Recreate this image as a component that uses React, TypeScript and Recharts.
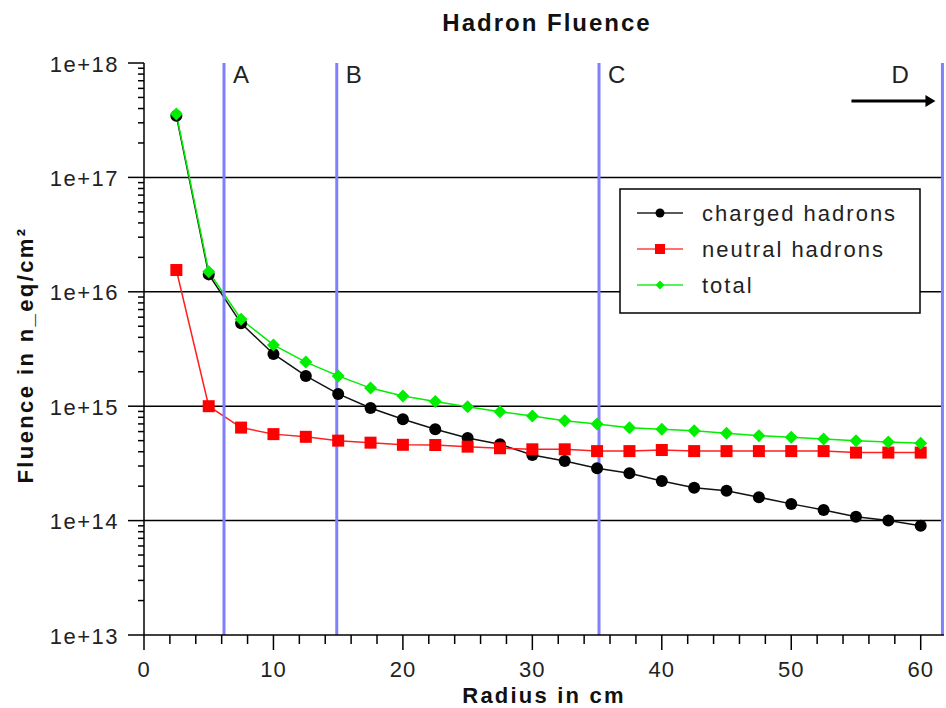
import React from "react";
import { Line, LineChart, ReferenceLine, XAxis, YAxis } from "recharts";

const radius = [2.5, 5, 7.5, 10, 12.5, 15, 17.5, 20, 22.5, 25, 27.5, 30, 32.5, 35, 37.5, 40, 42.5, 45, 47.5, 50, 52.5, 55, 57.5, 60];
const charged = [3.45e17, 1.42e16, 5.3e15, 2.86e15, 1.84e15, 1.28e15, 9.65e14, 7.7e14, 6.3e14, 5.27e14, 4.65e14, 3.74e14, 3.32e14, 2.87e14, 2.59e14, 2.22e14, 1.94e14, 1.82e14, 1.6e14, 1.4e14, 1.24e14, 1.08e14, 1.0e14, 9.0e13];
const neutral = [1.55e16, 1.0e15, 6.5e14, 5.7e14, 5.4e14, 5.0e14, 4.8e14, 4.6e14, 4.58e14, 4.43e14, 4.29e14, 4.2e14, 4.2e14, 4.05e14, 4.05e14, 4.14e14, 4.05e14, 4.05e14, 4.05e14, 4.05e14, 4.05e14, 3.93e14, 3.93e14, 3.93e14];
const total = [3.58e17, 1.5e16, 5.75e15, 3.43e15, 2.43e15, 1.84e15, 1.44e15, 1.23e15, 1.1e15, 9.9e14, 8.96e14, 8.2e14, 7.46e14, 6.98e14, 6.48e14, 6.28e14, 6.11e14, 5.8e14, 5.52e14, 5.35e14, 5.17e14, 4.99e14, 4.86e14, 4.74e14];

const xTicks = [0, 2, 4, 6, 8, 10, 12, 14, 16, 18, 20, 22, 24, 26, 28, 30, 32, 34, 36, 38, 40, 42, 44, 46, 48, 50, 52, 54, 56, 58, 60];
const yMajor = [1e13, 1e14, 1e15, 1e16, 1e17, 1e18];
const gridY = [1e14, 1e15, 1e16, 1e17];
const regions = [
  { x: 6.18, label: "A" },
  { x: 14.89, label: "B" },
  { x: 35.15, label: "C" },
  { x: 61.68, label: "D" },
];

const FONT = '"Liberation Sans", Arial, Helvetica, sans-serif';

// minor log ticks 2..9 x 10^n
const yTicks: number[] = [];
for (let e = 13; e < 18; e++) {
  for (let k = 1; k < 10; k++) yTicks.push(k * Math.pow(10, e));
}
yTicks.push(1e18);

const data = radius.map((r, i) => ({ r, charged: charged[i], neutral: neutral[i], total: total[i] }));

const isMajorY = (v: number) => yMajor.some((m) => Math.abs(v - m) / m < 1e-6);

const YTick = ({ x, y, payload }: any) => {
  const major = isMajorY(payload.value);
  return (
    <g>
      <line x1={x - (major ? 16 : 6)} x2={x} y1={y} y2={y} stroke="#000" strokeWidth={1.5} />
      {major && (
        <text x={x - 25} y={y + 8.5} textAnchor="end" fontSize={22} letterSpacing={1.5} fill="#222" fontFamily={FONT}>
          {`1e+${Math.round(Math.log10(payload.value))}`}
        </text>
      )}
    </g>
  );
};

const XTick = ({ x, y, payload }: any) => {
  const major = payload.value % 10 === 0;
  return (
    <g>
      <line x1={x} x2={x} y1={y} y2={y + (major ? 15 : 9)} stroke="#000" strokeWidth={1.5} />
      {major && (
        <text x={x} y={y + 42} textAnchor="middle" fontSize={22} letterSpacing={1} fill="#222" fontFamily={FONT}>
          {payload.value}
        </text>
      )}
    </g>
  );
};

const Circle = ({ cx, cy, index, size = 6 }: any) => (
  <circle key={`c-${index}`} cx={cx} cy={cy} r={size} fill="#000" />
);
const Square = ({ cx, cy, index, size = 6 }: any) => (
  <rect key={`s-${index}`} x={cx - size} y={cy - size} width={size * 2} height={size * 2} fill="#ff0000" />
);
const Diamond = ({ cx, cy, index, size = 6.5 }: any) => (
  <path
    key={`d-${index}`}
    d={`M${cx},${cy - size} L${cx + size},${cy} L${cx},${cy + size} L${cx - size},${cy} Z`}
    fill="#00ee00"
  />
);

const regionLabel = (text: string) => (props: any) => {
  const { x, y } = props.viewBox;
  if (text === "D") {
    return (
      <g>
        <text x={x - 51} y={y + 20} fontSize={24} fill="#222" fontFamily={FONT}>
          {text}
        </text>
        <line x1={x - 91} x2={x - 14} y1={y + 38} y2={y + 38} stroke="#000" strokeWidth={3} />
        <path d={`M${x - 7},${y + 38} L${x - 17},${y + 32} L${x - 17},${y + 44} Z`} fill="#000" />
      </g>
    );
  }
  return (
    <text x={x + 9} y={y + 20} fontSize={24} fill="#222" fontFamily={FONT}>
      {text}
    </text>
  );
};

const legendItems = [
  { name: "charged hadrons", color: "#222", marker: "circle" },
  { name: "neutral hadrons", color: "#ff4040", marker: "square" },
  { name: "total", color: "#22ee22", marker: "diamond" },
];

function LegendBox() {
  return (
    <svg width={302} height={126} style={{ position: "absolute", left: 611, top: 180 }}>
      <rect x={1} y={1} width={300} height={124} fill="#fff" stroke="#000" strokeWidth={1.5} />
      {legendItems.map((it, i) => {
        const cy = 25 + i * 36;
        return (
          <g key={it.name}>
            <line x1={18} x2={64} y1={cy} y2={cy} stroke={it.color} strokeWidth={1.5} />
            {it.marker === "circle" && <Circle cx={41} cy={cy} size={4.5} />}
            {it.marker === "square" && <Square cx={41} cy={cy} size={5} />}
            {it.marker === "diamond" && <Diamond cx={41} cy={cy} size={4.5} />}
            <text x={83} y={cy + 8} fontSize={22} letterSpacing={2} fill="#222" fontFamily={FONT}>
              {it.name}
            </text>
          </g>
        );
      })}
    </svg>
  );
}

export default function App() {
  // body margin removed so the chart can use the full 946x708 page; padding keeps the old offset
  return (
    <div style={{ padding: 8, width: 930, height: 692, overflow: "visible" }}>
      <style>{"body{margin:0}"}</style>
      <div style={{ position: "relative", width: 938, height: 700, fontFamily: FONT }}>
        <div
          style={{
            position: "absolute",
            left: 339,
            top: 3,
            width: 400,
            textAlign: "center",
            fontSize: 24,
            lineHeight: "24px",
            fontWeight: "bold",
            letterSpacing: 2,
            color: "#111",
          }}
        >
          Hadron Fluence
        </div>
        <LineChart width={938} height={700} data={data} margin={{ top: 55, right: 2, left: 0, bottom: 0 }}>
          <XAxis
            dataKey="r"
            type="number"
            domain={[0, 61.8]}
            ticks={xTicks}
            interval={0}
            tickSize={0}
            tickMargin={0}
            tick={<XTick />}
            height={73}
            axisLine={{ stroke: "#000", strokeWidth: 1.5 }}
            label={{
              content: () => (
                <text x={536} y={695} textAnchor="middle" fontSize={22} fontWeight="bold" letterSpacing={2.2} fill="#111" fontFamily={FONT}>
                  Radius in cm
                </text>
              ),
            }}
          />
          <YAxis
            scale="log"
            type="number"
            domain={[1e13, 1e18]}
            allowDataOverflow
            ticks={yTicks}
            interval={0}
            tickSize={0}
            tickMargin={0}
            tick={<YTick />}
            width={136}
            axisLine={{ stroke: "#000", strokeWidth: 1.5 }}
            label={{
              content: () => (
                <text
                  x={25}
                  y={347}
                  transform="rotate(-90 25 347)"
                  textAnchor="middle"
                  fontSize={22}
                  fontWeight="bold"
                  letterSpacing={2.4}
                  fill="#111"
                  fontFamily={FONT}
                >
                  Fluence in n_eq/cm²
                </text>
              ),
            }}
          />
          {gridY.map((v) => (
            <ReferenceLine key={v} y={v} stroke="#000" strokeWidth={1.5} />
          ))}
          <Line
            dataKey="charged"
            stroke="#111"
            strokeWidth={1.5}
            dot={(p: any) => <Circle key={`c-${p.index}`} {...p} />}
            isAnimationActive={false}
          />
          <Line
            dataKey="neutral"
            stroke="#ff2020"
            strokeWidth={1.5}
            dot={(p: any) => <Square key={`s-${p.index}`} {...p} />}
            isAnimationActive={false}
          />
          <Line
            dataKey="total"
            stroke="#00ee00"
            strokeWidth={1.5}
            dot={(p: any) => <Diamond key={`d-${p.index}`} {...p} />}
            isAnimationActive={false}
          />
          {regions.map((r) => (
            <ReferenceLine
              key={r.label}
              x={r.x}
              ifOverflow="visible"
              stroke="#8080ff"
              strokeWidth={3}
              label={regionLabel(r.label)}
            />
          ))}
        </LineChart>
        <LegendBox />
      </div>
    </div>
  );
}
